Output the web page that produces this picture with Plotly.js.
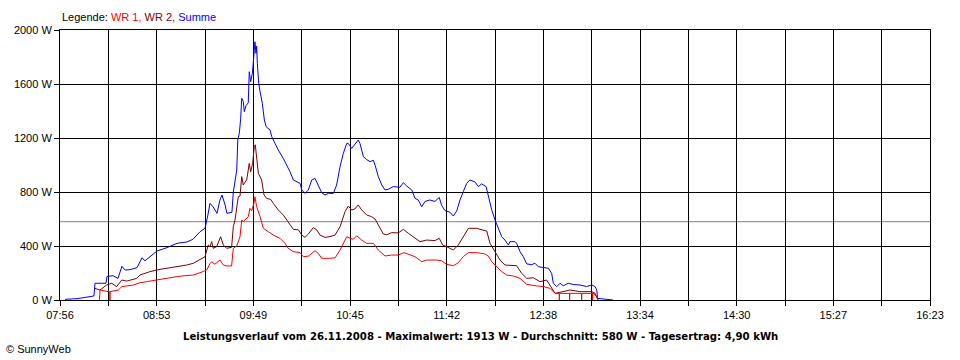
<!DOCTYPE html>
<html><head><meta charset="utf-8">
<script src="https://cdn.plot.ly/plotly-3.0.1.min.js"></script>
<style>html,body{margin:0;padding:0;background:#fff;}#chart{width:960px;height:360px;}</style>
</head><body><div id="chart"></div>
<script>
// x tick labels (every second gridline carries a label)
const xTickLabels = ['07:56','08:53','09:49','10:45','11:42','12:38','13:34','14:30','15:27','16:23'];
const yTickValues = [0, 400, 800, 1200, 1600, 2000];
const seriesNames = ['WR 1', 'WR 2', 'Summe'];
const seriesColors = ['#ff0000', '#800000', '#0000ff'];

// time in minutes after midnight, power in W
const sumTime = [478.9,485.9,493.5,495.8,496.4,502.8,503.4,506.9,509.8,512.1,
513.9,516.8,520.9,523.8,525.5,528.4,532.5,538.4,544.2,550.0,
553.5,557.6,560.5,562.2,563.4,565.2,567.5,569.2,570.4,572.2,
573.3,576.2,577.0,579.0,579.6,580.5,581.3,581.9,582.8,583.4,
584.4,585.7,586.3,587.1,588.1,588.6,589.2,589.6,590.2,590.6,
591.0,591.8,592.6,593.9,595.1,596.1,598.4,599.4,601.3,603.2,
606.1,608.1,610.0,612.0,613.9,615.9,616.9,618.8,620.7,622.7,
624.6,626.5,628.5,630.4,632.4,635.3,637.2,639.2,641.1,643.1,
644.0,646.0,647.9,649.8,650.8,652.8,654.7,656.7,658.6,659.6,
661.5,663.5,665.4,667.3,670.2,674.1,676.1,678.0,681.0,682.9,
684.8,686.8,688.7,691.6,694.5,697.0,698.4,700.4,703.3,705.2,
707.2,709.1,711.0,713.0,714.9,717.8,719.8,721.7,724.3,725.6,
727.6,729.5,731.4,733.4,735.3,737.3,738.2,741.2,742.1,744.1,
746.0,748.0,750.9,752.8,754.7,757.6,760.6,762.5,763.5,765.5,
767.4,769.3,772.2,775.1,779.0,782.9,785.9,787.8,788.8,789.3,
792.4,798.3];
const sumWatt = [5,10,25,30,124,124,175,180,160,250,
222,225,240,313,290,320,363,388,420,430,
450,506,531,630,716,690,642,741,778,704,
642,650,800,963,1185,1235,1346,1494,1470,1395,
1440,1460,1691,1617,1680,1753,1852,1913,1827,1880,
1753,1605,1543,1457,1333,1284,1259,1210,1160,1111,
1049,1000,951,889,876,864,815,790,815,889,
901,852,795,778,790,790,852,988,1086,1160,
1160,1123,1150,1185,1160,1062,1040,1025,1035,1000,
914,852,815,820,840,835,869,845,815,753,
740,691,730,741,730,760,700,662,650,622,
660,741,802,864,889,875,840,860,840,765,
667,593,531,469,444,407,432,432,420,358,
321,267,262,272,247,242,235,198,124,99,
124,105,124,115,111,100,111,100,74,12,
8,0];

const wr2Time = [496.4,499.3,503.2,506.1,509.0,512.0,514.9,517.8,520.7,522.6,
524.5,528.4,534.3,538.2,542.0,544.9,549.8,553.7,557.6,560.5,
562.4,563.4,564.4,565.3,567.3,569.6,571.2,573.1,576.0,577.0,
578.0,579.9,580.9,581.9,582.8,584.8,586.3,587.1,588.3,589.2,
589.8,590.6,591.6,593.5,594.9,596.4,598.8,600.3,603.2,606.1,
609.0,612.0,614.9,616.9,618.8,620.7,623.6,625.6,627.5,630.4,
633.3,636.3,639.2,642.1,644.0,646.0,647.9,649.8,651.8,654.7,
657.6,659.6,661.5,664.4,666.4,669.3,673.1,676.1,679.0,681.9,
685.8,689.7,694.5,697.0,699.0,701.3,705.2,708.1,711.0,714.0,
718.8,722.7,724.7,726.6,729.5,732.4,735.3,738.2,742.1,745.0,
748.0,751.8,755.7,759.6,761.6,764.5,768.4,773.2,779.0,785.9,
787.8,788.8,789.5];
const wr2Watt = [86,74,111,124,99,148,140,148,160,185,
195,210,227,235,242,250,259,272,300,321,
407,395,432,383,395,469,407,383,390,543,
593,765,770,914,852,889,1012,950,1012,1136,
1150,1049,938,889,778,753,745,716,667,630,
580,523,520,481,464,488,536,520,481,464,
470,481,543,654,696,667,675,704,667,630,
617,600,556,489,484,499,497,523,494,469,
432,444,440,457,407,395,370,407,469,531,
531,519,510,420,358,296,259,259,254,198,
160,165,136,148,111,49,60,74,62,62,
50,10,0];

const wr1Time = [499.0,499.3,504.0,505.0,505.1,505.2,510.0,512.0,518.7,522.6,526.5,
530.4,534.3,539.1,544.0,548.8,553.7,557.6,560.5,561.5,563.4,
564.4,566.3,569.2,571.2,573.1,576.0,577.0,579.0,580.9,581.9,
582.8,585.7,586.7,587.7,589.0,589.6,590.6,592.6,594.5,597.4,
600.3,604.2,607.1,609.0,612.0,615.9,617.8,620.7,624.6,626.5,
628.5,633.3,636.3,639.2,643.1,645.0,646.9,648.9,651.8,654.7,
658.6,661.5,665.4,669.3,673.1,676.5,680.0,682.9,686.8,689.7,
695.5,698.4,701.3,705.2,708.1,711.0,714.0,718.8,723.7,725.6,
727.6,730.5,733.4,736.3,740.2,744.1,748.0,753.8,757.6,761.6,
764.5,766.9,767.0,767.1,772.9,773.0,773.1,779.9,780.0,780.1,
786.3,786.4,786.5,788.8,789.5];
const wr1Watt = [0,74,62,62,0,62,74,99,111,128,136,
145,153,162,173,180,185,202,215,222,270,
284,265,296,259,252,252,383,400,469,593,
580,617,679,660,716,765,691,617,531,506,
481,457,420,383,358,351,321,325,365,345,
309,309,312,370,469,457,450,476,444,420,
420,370,326,333,333,351,333,321,284,296,
296,290,264,254,276,321,351,351,341,325,
284,247,210,185,178,160,116,104,100,86,
49,49,0,49,49,0,49,49,0,49,
49,0,55,25,0];

const dateText = '26.11.2008';
const maxWatt = 1913;
const averageWatt = 580;
const dayYieldText = '4,90';

function toMin(s){ const p = s.split(':').map(Number); return p[0]*60 + p[1]; }
const xStart = toMin(xTickLabels[0]);
const xEnd = toMin(xTickLabels[xTickLabels.length-1]);
const nGrid = (xTickLabels.length - 1) * 2;
const step = (xEnd - xStart) / nGrid;
const tickVals = [], tickText = [];
for (let i = 0; i <= nGrid; i++) {
  tickVals.push(xStart + i*step);
  tickText.push(i % 2 === 0 ? xTickLabels[i/2] : '');
}

const font = {family: 'Liberation Sans, Arial, sans-serif', size: 11, color: '#000'};

const mk = (t, w, idx) => ({
  x: t, y: w, type: 'scatter', mode: 'lines', name: seriesNames[idx],
  line: {color: seriesColors[idx], width: 1, shape: 'linear'},
  hoverinfo: 'skip', showlegend: false
});
const traces = [mk(sumTime, sumWatt, 2), mk(wr2Time, wr2Watt, 1), mk(wr1Time, wr1Watt, 0)];

const legendText = 'Legende: ' + seriesNames.map((n, i) =>
  '<span style="color:' + seriesColors[i] + '">' + n + (i < seriesNames.length-1 ? ',' : '') + '</span>'
).join(' ');

const layout = {
  width: 960, height: 360,
  margin: {l: 60, r: 30, t: 30, b: 60, pad: 0},
  paper_bgcolor: '#fff', plot_bgcolor: '#fff',
  font: font,
  xaxis: {
    range: [xStart, xEnd], tickmode: 'array', tickvals: tickVals, ticktext: tickText,
    showgrid: true, gridcolor: '#000', gridwidth: 1, zeroline: false,
    showline: true, linecolor: '#000', linewidth: 1, mirror: true,
    ticks: 'outside', ticklen: 5, tickcolor: '#000', tickwidth: 1, fixedrange: true
  },
  yaxis: {
    range: [0, 2000], tickmode: 'array', tickvals: yTickValues,
    ticktext: yTickValues.map(v => v + ' W'),
    showgrid: true, gridcolor: '#000', gridwidth: 1, zeroline: false,
    showline: true, linecolor: '#000', linewidth: 1, mirror: true,
    ticks: 'outside', ticklen: 5, tickcolor: '#000', tickwidth: 1, fixedrange: true
  },
  shapes: [{
    type: 'line', xref: 'paper', x0: 0, x1: 1, yref: 'y', y0: averageWatt, y1: averageWatt,
    line: {color: '#808080', width: 1}, layer: 'below'
  }],
  annotations: [
    {text: legendText, xref: 'paper', yref: 'paper', x: 0, y: 1, xanchor: 'left', yanchor: 'bottom',
     yshift: 5, showarrow: false, font: font},
    {text: '<b>Leistungsverlauf vom ' + dateText + ' - Maximalwert: ' + maxWatt + ' W - Durchschnitt: ' +
       averageWatt + ' W - Tagesertrag: ' + dayYieldText + ' kWh</b>',
     xref: 'paper', yref: 'paper', x: (480-60)/870, y: 0, xanchor: 'center', yanchor: 'top', yshift: -29,
     showarrow: false, font: {family: 'DejaVu Sans, Verdana, sans-serif', size: 10.15, color: '#000'}},
    {text: '© SunnyWeb', xref: 'paper', yref: 'paper', x: -56/870, y: -49/270, xanchor: 'left', yanchor: 'middle',
     showarrow: false, font: {family: font.family, size: 11, color: '#000'}}
  ]
};

Plotly.newPlot('chart', traces, layout, {staticPlot: true, displayModeBar: false});
</script>
</body></html>
